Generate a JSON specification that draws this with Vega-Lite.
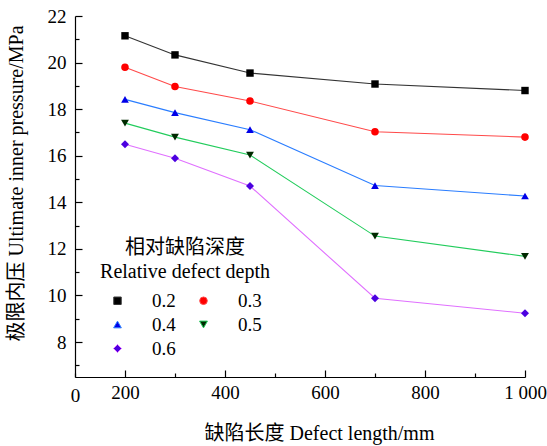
{
  "$schema": "https://vega.github.io/schema/vega-lite/v6.json",
  "autosize": {"type": "none"},
  "width": 450,
  "height": 361,
  "padding": {"left": 75, "top": 16, "right": 22, "bottom": 69},
  "background": "white",
  "config": {
    "view": {"stroke": null},
    "font": "'Liberation Serif', serif",
    "axis": {
      "grid": false,
      "domainColor": "black",
      "domainWidth": 1.2,
      "tickColor": "black",
      "tickWidth": 1.2,
      "labelColor": "black",
      "labelFont": "'Liberation Serif', serif",
      "labelFontSize": 19,
      "titleFont": "'Liberation Serif', 'Noto Sans CJK SC', serif",
      "titleFontSize": 20,
      "titleFontWeight": "normal",
      "titleColor": "black",
      "labelOverlap": false,
      "labelFlush": false
    },
    "legend": {
      "labelFont": "'Liberation Serif', serif",
      "titleFont": "'Liberation Serif', 'Noto Sans CJK SC', serif"
    }
  },
  "data": {
    "values": [
      {"len": 200, "depth": "0.2", "p": 21.15},
      {"len": 300, "depth": "0.2", "p": 20.33},
      {"len": 450, "depth": "0.2", "p": 19.55},
      {"len": 700, "depth": "0.2", "p": 19.08},
      {"len": 1000, "depth": "0.2", "p": 18.8},
      {"len": 200, "depth": "0.3", "p": 19.8},
      {"len": 300, "depth": "0.3", "p": 18.97},
      {"len": 450, "depth": "0.3", "p": 18.35},
      {"len": 700, "depth": "0.3", "p": 17.03},
      {"len": 1000, "depth": "0.3", "p": 16.8},
      {"len": 200, "depth": "0.4", "p": 18.42},
      {"len": 300, "depth": "0.4", "p": 17.85},
      {"len": 450, "depth": "0.4", "p": 17.12},
      {"len": 700, "depth": "0.4", "p": 14.72},
      {"len": 1000, "depth": "0.4", "p": 14.27},
      {"len": 200, "depth": "0.5", "p": 17.4},
      {"len": 300, "depth": "0.5", "p": 16.8},
      {"len": 450, "depth": "0.5", "p": 16.03},
      {"len": 700, "depth": "0.5", "p": 12.55},
      {"len": 1000, "depth": "0.5", "p": 11.68},
      {"len": 200, "depth": "0.6", "p": 16.49},
      {"len": 300, "depth": "0.6", "p": 15.89},
      {"len": 450, "depth": "0.6", "p": 14.7},
      {"len": 700, "depth": "0.6", "p": 9.88},
      {"len": 1000, "depth": "0.6", "p": 9.24}
    ]
  },
  "encoding": {
    "x": {
      "field": "len",
      "type": "quantitative",
      "scale": {"domain": [100, 1000], "nice": false, "zero": false},
      "axis": {
        "title": "缺陷长度 Defect length/mm",
        "labelFont": "'Liberation Serif', serif",
        "titleFont": "'Liberation Serif', 'Noto Sans CJK SC', serif",
        "values": [100, 200, 300, 400, 500, 600, 700, 800, 900, 1000],
        "labelExpr": "datum.value == 100 ? '0' : datum.value == 1000 ? '1 000' : (datum.value % 200 == 0 ? datum.label : '')",
        "tickSize": {"condition": {"test": "datum.value % 200 == 100", "value": -4}, "value": -7},
        "labelPadding": 13,
        "titleX": 244,
        "titleY": 56,
        "titleBaseline": "middle",
        "titleAnchor": null
      }
    },
    "y": {
      "field": "p",
      "type": "quantitative",
      "scale": {"domain": [6.5, 22], "nice": false, "zero": false},
      "axis": {
        "title": "极限内压 Ultimate inner pressure/MPa",
        "labelFont": "'Liberation Serif', serif",
        "titleFont": "'Liberation Serif', 'Noto Sans CJK SC', serif",
        "values": [7, 8, 9, 10, 11, 12, 13, 14, 15, 16, 17, 18, 19, 20, 21, 22],
        "labelExpr": "datum.value % 2 == 0 ? datum.label : ''",
        "tickSize": {"condition": {"test": "datum.value % 2 == 1", "value": -4}, "value": -7},
        "labelPadding": 16,
        "titleX": -59,
        "titleY": 167,
        "titleBaseline": "middle",
        "titleAngle": -90
      }
    }
  },
  "layer": [
    {
      "mark": {"type": "line", "strokeWidth": 1.1},
      "encoding": {
        "stroke": {
          "field": "depth",
          "type": "nominal",
          "scale": {"domain": ["0.2", "0.3", "0.4", "0.5", "0.6"], "range": ["#333333", "#ff4a4a", "#2a7dff", "#22cc5c", "#e070ff"]},
          "legend": {
            "title": ["相对缺陷深度", "Relative defect depth"],
            "orient": "none",
            "legendX": 25,
            "legendY": 222,
            "direction": "horizontal",
            "columns": 2,
            "columnPadding": 18,
            "rowPadding": 4,
            "padding": 0,
            "symbolSize": 64,
            "symbolStrokeWidth": 1,
            "labelOffset": 25,
            "labelFont": "'Liberation Serif', serif",
            "labelFontSize": 19,
            "labelColor": "black",
            "titleFont": "'Liberation Serif', 'Noto Sans CJK SC', serif",
            "titleFontSize": 20,
            "titleFontWeight": "normal",
            "titleColor": "black",
            "titleLineHeight": 24,
            "titleAnchor": "middle",
            "titleAlign": "center",
            "titlePadding": 9
          }
        }
      }
    },
    {
      "mark": {"type": "point", "filled": true, "opacity": 1, "strokeWidth": 0},
      "encoding": {
        "fill": {
          "field": "depth",
          "type": "nominal",
          "scale": {"domain": ["0.2", "0.3", "0.4", "0.5", "0.6"], "range": ["#000000", "#ff0000", "#0000e8", "#002a00", "#4b00e0"]},
          "legend": null
        },
        "shape": {
          "field": "depth",
          "type": "nominal",
          "scale": {"domain": ["0.2", "0.3", "0.4", "0.5", "0.6"], "range": ["square", "circle", "triangle-up", "triangle-down", "diamond"]},
          "legend": null
        },
        "size": {
          "field": "depth",
          "type": "nominal",
          "scale": {"domain": ["0.2", "0.3", "0.4", "0.5", "0.6"], "range": [55, 64, 100, 100, 100]},
          "legend": null
        }
      }
    }
  ]
}
